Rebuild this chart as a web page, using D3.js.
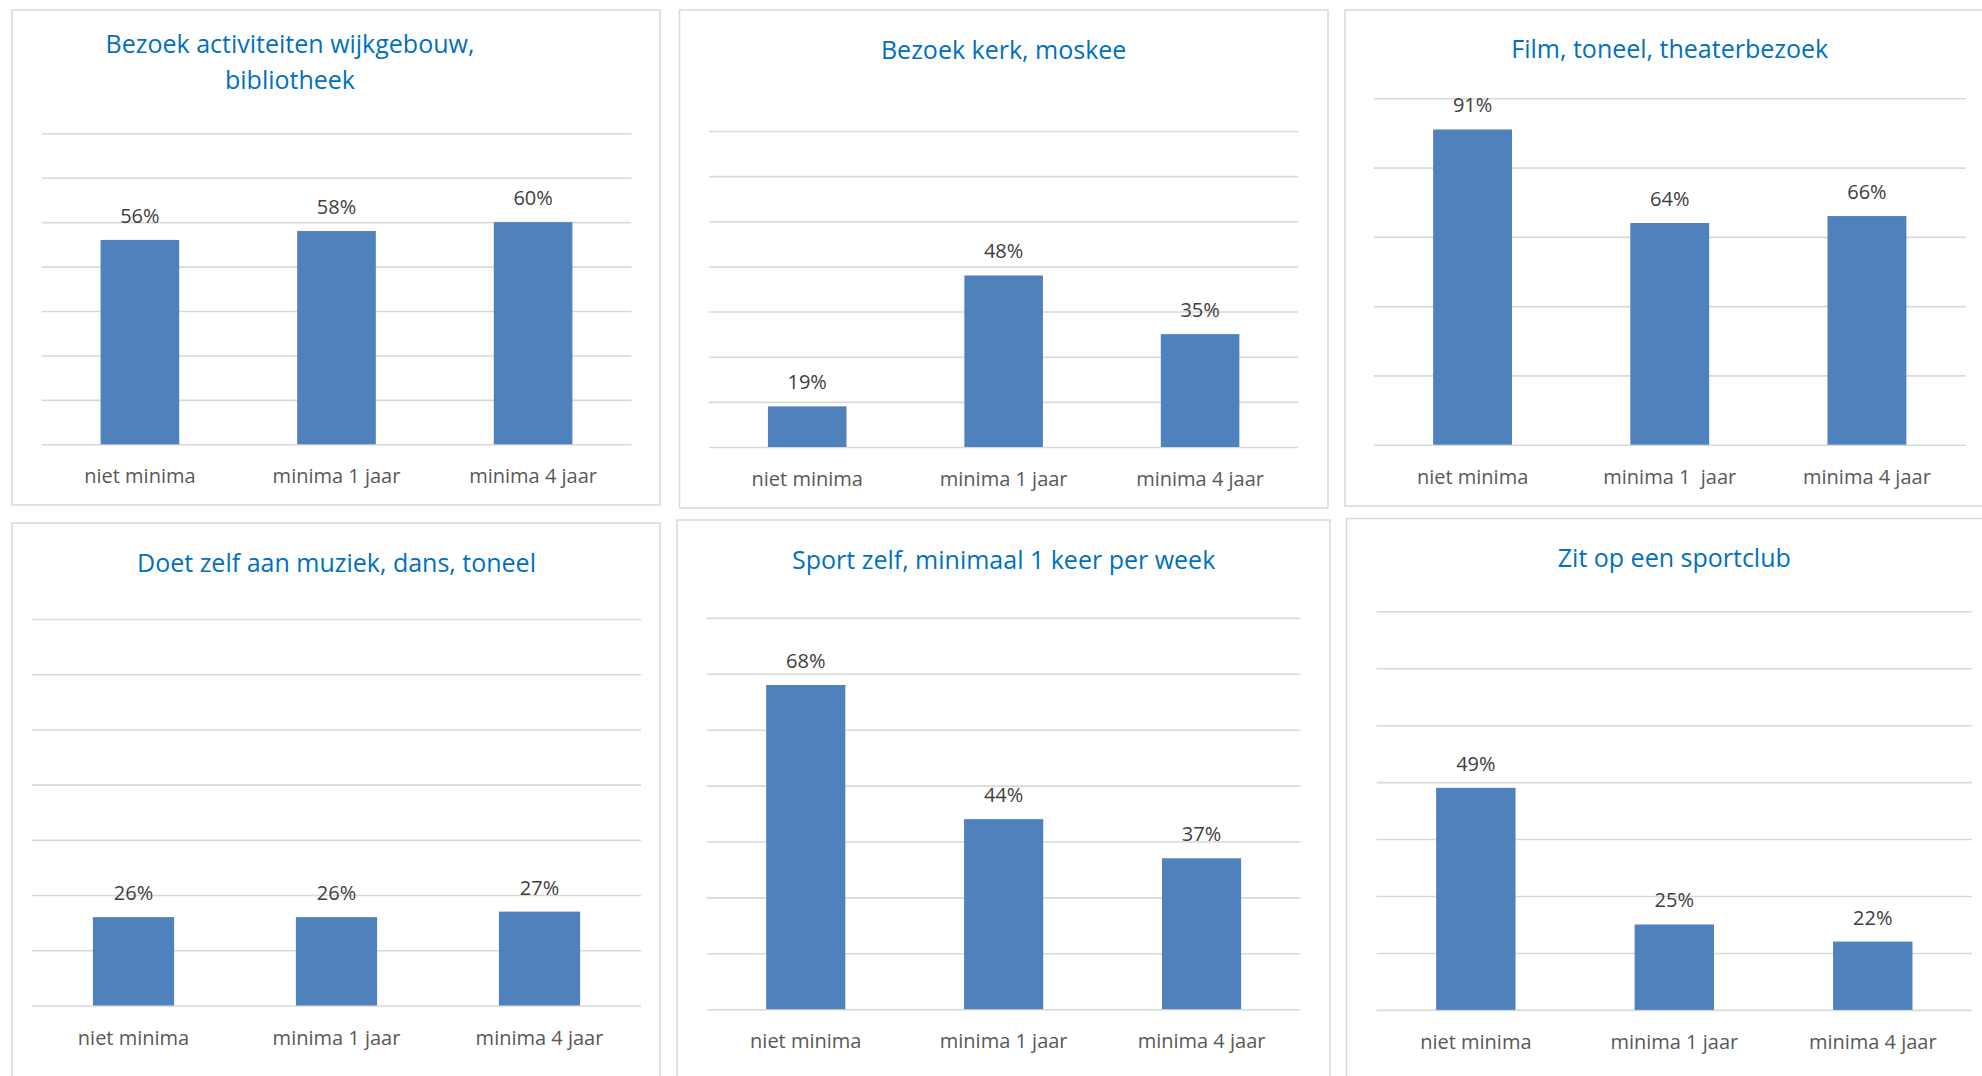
<!DOCTYPE html>
<html>
  <head>
    <meta charset="utf-8">
    <title>Deelname activiteiten minima</title>
    <script src="https://d3js.org/d3.v7.min.js"></script>
    <style>
      body { margin: 0; background: #fff; }
      svg text { font-family: "Open Sans", "Noto Sans", sans-serif; }
    </style>
  </head>
  <body>
    <div id="chart"></div>
    <script>
      // data
      const categories = ["niet minima", "minima 1 jaar", "minima 4 jaar"];
      const categoriesFilm = ["niet minima", "minima 1  jaar", "minima 4 jaar"];

      const titles = [
        ["Bezoek activiteiten wijkgebouw,", "bibliotheek"],
        ["Bezoek kerk, moskee"],
        ["Film, toneel, theaterbezoek"],
        ["Doet zelf aan muziek, dans, toneel"],
        ["Sport zelf, minimaal 1 keer per week"],
        ["Zit op een sportclub"]
      ];

      const wijkgebouw = [0.56, 0.58, 0.60];
      const kerkMoskee = [0.19, 0.48, 0.35];
      const theater = [0.91, 0.64, 0.66];
      const muziekDans = [0.26, 0.26, 0.27];
      const sportZelf = [0.68, 0.44, 0.37];
      const sportclub = [0.49, 0.25, 0.22];

      // value axis of each chart: [min, max, step]
      const axes = [
        [0.1, 0.8, 0.1],
        [0.1, 0.8, 0.1],
        [0, 1, 0.2],
        [0.1, 0.8, 0.1],
        [0.1, 0.8, 0.1],
        [0.1, 0.8, 0.1]
      ];

      const series = [wijkgebouw, kerkMoskee, theater, muziekDans, sportZelf, sportclub];
      const labelSets = [categories, categories, categoriesFilm, categories, categories, categories];

      // panel frames and plot areas (page pixels)
      const layout = [
        { frame: [12, 10, 660, 505], plot: [41.6, 133.3, 631.4, 444.3], titleX: 290, titleY: 53, lineGap: 36 },
        { frame: [679.5, 10, 1328, 508], plot: [709, 131, 1298.3, 447], titleY: 59 },
        { frame: [1345, 10, 1995, 506], plot: [1374, 98.3, 1965.5, 444.7], titleY: 58 },
        { frame: [12, 523, 660, 1095], plot: [32, 619, 641, 1005.5], titleY: 571.5 },
        { frame: [677, 520, 1330, 1095], plot: [706.8, 617.9, 1300.5, 1009.2], titleY: 569 },
        { frame: [1346.5, 518.5, 1995, 1095], plot: [1376.6, 611.3, 1972, 1009.9], titleY: 567 }
      ];

      const width = 1982;
      const height = 1076;

      const svg = d3.select("#chart")
        .append("svg")
        .attr("width", width)
        .attr("height", height);

      const pct = d3.format(".0%");

      layout.forEach(function (p, i) {
        const [fx0, fy0, fx1, fy1] = p.frame;
        const [px0, py0, px1, py1] = p.plot;
        const [lo, hi, step] = axes[i];

        svg.append("rect")
          .attr("x", fx0)
          .attr("y", fy0)
          .attr("width", fx1 - fx0)
          .attr("height", fy1 - fy0)
          .attr("fill", "#fff")
          .attr("stroke", "#d9d9d9")
          .attr("stroke-width", 1.5);

        const data = labelSets[i].map((c, k) => ({ cat: c, value: series[i][k] }));

        const x = d3.scaleBand()
          .domain(labelSets[i])
          .range([px0, px1])
          .paddingInner(0.6)
          .paddingOuter(0.3);

        const y = d3.scaleLinear()
          .domain([lo, hi])
          .range([py1, py0]);

        // gridlines
        const grid = svg.append("g")
          .attr("transform", "translate(" + px0 + ",0)")
          .call(d3.axisLeft(y)
            .tickValues(d3.range(lo, hi + step / 2, step))
            .tickSize(-(px1 - px0))
            .tickFormat(""));
        grid.select(".domain").remove();
        grid.selectAll(".tick line")
          .attr("stroke", "#d9d9d9")
          .attr("stroke-width", 1.6);

        svg.selectAll(null)
          .data(data)
          .enter()
          .append("rect")
          .attr("x", d => x(d.cat))
          .attr("y", d => y(d.value))
          .attr("width", x.bandwidth())
          .attr("height", d => y(lo) - y(d.value))
          .attr("fill", "#4f81bd");

        svg.selectAll(null)
          .data(data)
          .enter()
          .append("text")
          .attr("x", d => x(d.cat) + x.bandwidth() / 2)
          .attr("y", d => y(d.value) - 17)
          .attr("text-anchor", "middle")
          .attr("font-size", 20)
          .attr("fill", "#404040")
          .text(d => pct(d.value));

        // category axis
        const xa = svg.append("g")
          .attr("transform", "translate(0," + py1 + ")")
          .call(d3.axisBottom(x).tickSize(0).tickPadding(25));
        xa.select(".domain").remove();
        xa.selectAll("text")
          .attr("font-size", 20)
          .attr("fill", "#595959")
          .style("font-family", "'Open Sans', sans-serif")
          .style("white-space", "pre");

        const tx = p.titleX !== undefined ? p.titleX : (px0 + px1) / 2;
        svg.append("text")
          .attr("text-anchor", "middle")
          .attr("font-size", 25)
          .attr("fill", "#0070c0")
          .selectAll("tspan")
          .data(titles[i])
          .enter()
          .append("tspan")
          .attr("x", tx)
          .attr("y", (d, k) => p.titleY + k * (p.lineGap || 0))
          .text(d => d);
      });
    </script>
  </body>
</html>
